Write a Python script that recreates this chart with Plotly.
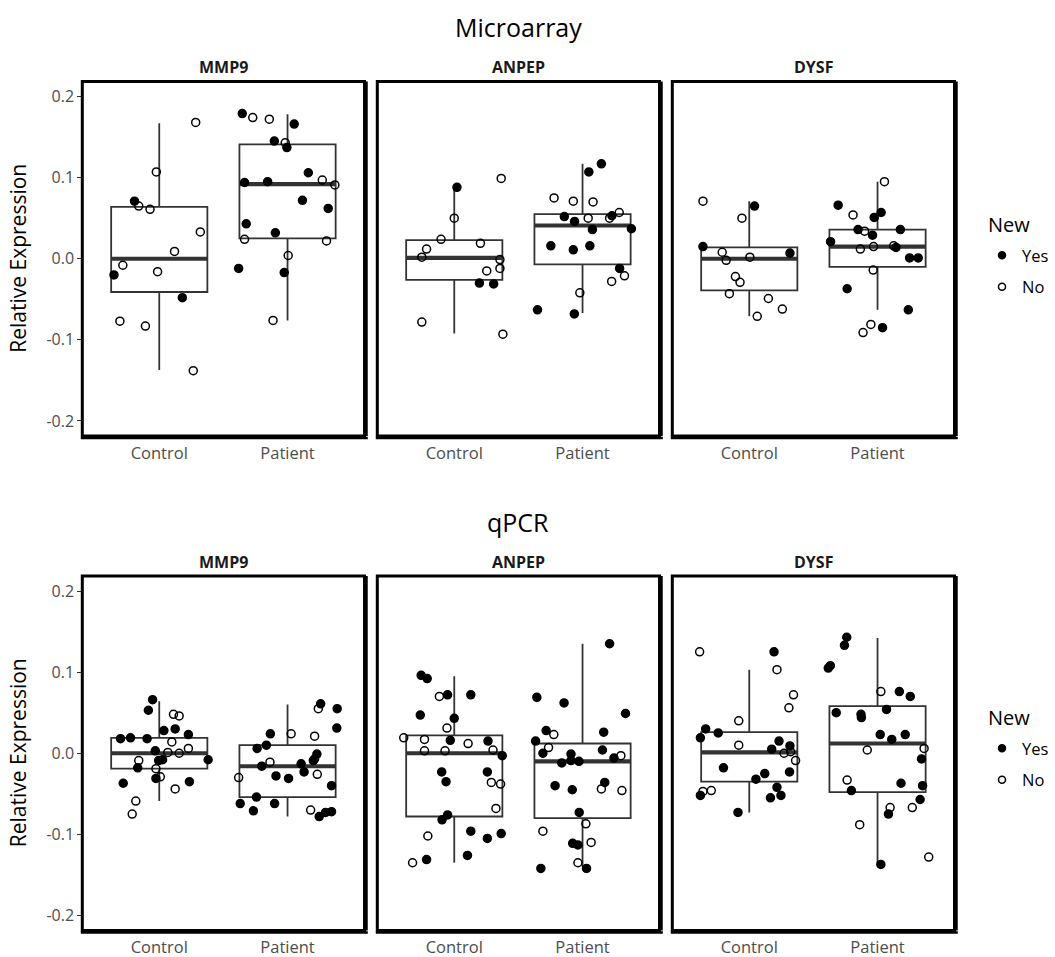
import plotly.graph_objects as go

# ---------------------------------------------------------------- data
GROUPS = ["Control", "Patient"]
GENES = ["MMP9", "ANPEP", "DYSF"]
PLATFORMS = ["Microarray", "qPCR"]
Y_TICKS = [-0.2, -0.1, 0.0, 0.1, 0.2]
Y_TICK_TEXT = ["-0.2", "-0.1", "0.0", "0.1", "0.2"]

# Each sample: jittered group position (1 = Control, 2 = Patient),
# relative expression, and whether the sample is new (Y/N).
MA_MMP9_X = [0.807, 0.840, 0.928, 0.977, 1.284, 1.320, 1.119, 0.716, 0.647, 0.987, 1.180, 0.693, 0.892, 1.265,
             1.647, 1.729, 1.858, 2.052, 1.897, 1.982, 1.995, 2.162, 2.271, 2.369, 1.665, 1.845, 2.116, 2.317,
             1.678, 1.905, 1.665, 2.304, 2.005, 1.619, 1.974, 1.887]
MA_MMP9_Y = [0.071, 0.065, 0.061, 0.107, 0.168, 0.033, 0.009, -0.008, -0.020, -0.016, -0.048, -0.077, -0.083, -0.138,
             0.179, 0.174, 0.172, 0.166, 0.145, 0.143, 0.137, 0.106, 0.097, 0.091, 0.094, 0.095, 0.072, 0.062,
             0.043, 0.032, 0.024, 0.022, 0.004, -0.012, -0.017, -0.076]
MA_MMP9_NEW = "YNNNNNNNYNYNNN" "YNNYYNYYNNYYYYYYNNNYYN"

MA_ANPEP_X = [1.021, 1.366, 1.000, 0.897, 0.784, 0.747, 1.204, 1.356, 1.356, 1.253, 1.196, 1.307, 0.747, 1.379,
              2.147, 2.049, 1.778, 1.928, 2.082, 2.286, 2.211, 2.229, 1.858, 1.938, 2.044, 2.077, 2.381, 1.753,
              1.928, 2.057, 2.289, 2.327, 2.227, 1.979, 1.649, 1.936]
MA_ANPEP_Y = [0.088, 0.099, 0.050, 0.024, 0.012, 0.002, 0.019, -0.001, -0.012, -0.015, -0.030, -0.031, -0.078, -0.093,
              0.117, 0.107, 0.075, 0.071, 0.070, 0.057, 0.050, 0.053, 0.052, 0.046, 0.050, 0.036, 0.037, 0.016,
              0.011, 0.016, -0.012, -0.021, -0.028, -0.042, -0.063, -0.068]
MA_ANPEP_NEW = "YNNNNNNNNNYYNN" "YYNNNNNYYYNYYYYYYNNNYY"

MA_DYSF_X = [0.639, 1.041, 0.943, 0.639, 0.789, 0.820, 1.005, 1.317, 0.892, 0.928, 0.845, 1.149, 1.258, 1.062,
             2.054, 1.693, 1.809, 2.028, 1.974, 1.848, 1.899, 1.961, 2.178, 1.634, 1.866, 1.969, 2.126, 2.144,
             2.250, 2.317, 1.966, 1.763, 2.240, 1.948, 1.887, 2.039]
MA_DYSF_Y = [0.071, 0.065, 0.050, 0.015, 0.008, -0.002, 0.002, 0.007, -0.022, -0.029, -0.043, -0.049, -0.062, -0.071,
             0.095, 0.066, 0.054, 0.057, 0.051, 0.036, 0.034, 0.029, 0.036, 0.021, 0.012, 0.015, 0.016, 0.014,
             0.001, 0.001, -0.014, -0.037, -0.063, -0.081, -0.091, -0.085]
MA_DYSF_NEW = "NYNYNNNYNNNNNN" "NYNYYYNYYYNNNYYYNYYNNY"

QP_MMP9_X = [0.948, 0.915, 1.111, 1.155, 1.036, 1.124, 1.227, 0.698, 0.776, 0.905, 1.098, 1.227, 0.969, 1.067,
             1.155, 0.840, 0.995, 1.026, 1.381, 0.832, 0.974, 1.008, 0.974, 0.719, 1.235, 1.124, 0.817, 0.789,
             2.258, 2.240, 2.387, 2.384, 1.866, 2.028, 2.211, 1.835, 1.763, 2.229, 2.211, 2.201, 1.863, 2.106,
             1.799, 2.129, 2.232, 1.910, 2.008, 1.619, 2.343, 1.758, 1.631, 1.899, 1.734, 2.180, 2.247, 2.296,
             2.343]
QP_MMP9_Y = [0.066, 0.053, 0.048, 0.046, 0.028, 0.030, 0.023, 0.018, 0.019, 0.018, 0.014, 0.006, 0.003, 0.001,
             0.000, -0.009, -0.009, -0.008, -0.008, -0.018, -0.019, -0.029, -0.031, -0.037, -0.035, -0.044, -0.059,
             -0.075,
             0.061, 0.055, 0.055, 0.031, 0.024, 0.024, 0.021, 0.010, 0.006, -0.001, -0.007, -0.009, -0.011, -0.013,
             -0.016, -0.023, -0.026, -0.028, -0.031, -0.030, -0.040, -0.054, -0.062, -0.062, -0.071, -0.070, -0.078,
             -0.073, -0.072]
QP_MMP9_NEW = "YYNNYYYYYYNNYNNNYYYYNNYYYNNN" "YNYYYNNYYYNYNYYYNYYNYYYYYNYYY"

QP_ANPEP_X = [0.742, 0.789, 0.884, 0.948, 1.129, 0.735, 1.000, 0.943, 0.606, 0.768, 0.969, 1.108, 1.263, 0.768,
              0.928, 1.302, 1.374, 0.902, 1.258, 0.936, 1.289, 1.361, 1.325, 0.948, 0.905, 0.794, 1.129, 1.258,
              1.366, 1.103, 0.784, 0.675,
              2.211, 1.644, 1.856, 2.335, 1.716, 1.776, 2.165, 1.634, 1.735, 1.691, 1.910, 2.155, 2.299, 2.245,
              1.838, 1.910, 1.972, 2.173, 1.786, 1.920, 2.147, 2.307, 1.974, 2.026, 1.691, 2.067, 1.923, 1.964,
              1.964, 2.031, 1.675]
QP_ANPEP_Y = [0.096, 0.092, 0.070, 0.072, 0.072, 0.047, 0.043, 0.031, 0.019, 0.017, 0.016, 0.012, 0.015, 0.003,
              0.003, 0.004, -0.003, -0.023, -0.023, -0.035, -0.036, -0.038, -0.068, -0.076, -0.082, -0.102, -0.096,
              -0.105, -0.099, -0.126, -0.131, -0.135,
              0.135, 0.069, 0.062, 0.049, 0.028, 0.023, 0.026, 0.015, 0.007, 0.000, -0.001, 0.004, -0.003, -0.006,
              -0.012, -0.009, -0.010, -0.036, -0.040, -0.045, -0.044, -0.046, -0.073, -0.087, -0.096, -0.110, -0.111,
              -0.113, -0.135, -0.142, -0.142]
QP_ANPEP_NEW = "YYNYYYYNNNYNYNNNYYYYNNNYYNYYYYYN" "YYYYYNYYNYYYNYYYYYYYNNYNNNYYNYY"

QP_DYSF_X = [0.613, 1.193, 1.216, 1.345, 1.309, 0.918, 0.660, 0.758, 0.619, 0.918, 1.232, 1.317, 1.175, 1.271,
             1.322, 1.361, 0.799, 1.314, 1.121, 1.052, 0.639, 0.704, 0.619, 1.216, 1.247, 1.165, 0.912,
             1.760, 1.742, 1.616, 1.632, 2.026, 2.170, 2.255, 1.678, 1.871, 1.874, 2.070, 2.021, 2.111, 2.216,
             1.920, 2.363, 2.343, 1.763, 2.183, 2.351, 1.796, 2.332, 2.098, 2.085, 2.271, 1.861, 2.026, 2.399]
QP_DYSF_Y = [0.125, 0.125, 0.103, 0.072, 0.056, 0.040, 0.030, 0.025, 0.019, 0.010, 0.015, 0.009, 0.005, 0.000,
             0.002, -0.009, -0.018, -0.023, -0.025, -0.032, -0.047, -0.046, -0.052, -0.042, -0.052, -0.055, -0.073,
             0.143, 0.133, 0.105, 0.108, 0.076, 0.076, 0.070, 0.050, 0.048, 0.044, 0.054, 0.023, 0.017, 0.023,
             0.004, 0.006, -0.007, -0.033, -0.037, -0.040, -0.046, -0.057, -0.067, -0.075, -0.067, -0.088, -0.137,
             -0.128]
QP_DYSF_NEW = "NYNNNNYYYNYYYNNNYYYYNNYYYYY" "YYYYNYYYYYYYYYNNYNYYYYNYNNYN"

# Box summaries per group: [lower whisker, Q1, median, Q3, upper whisker]
MA_MMP9_BOX = [[-0.137, -0.041, 0.000, 0.064, 0.167], [-0.076, 0.025, 0.092, 0.141, 0.178]]
MA_ANPEP_BOX = [[-0.092, -0.026, 0.001, 0.023, 0.088], [-0.067, -0.007, 0.041, 0.055, 0.117]]
MA_DYSF_BOX = [[-0.071, -0.039, 0.000, 0.014, 0.071], [-0.063, -0.010, 0.015, 0.036, 0.095]]
QP_MMP9_BOX = [[-0.059, -0.019, 0.000, 0.019, 0.064], [-0.078, -0.054, -0.016, 0.010, 0.060]]
QP_ANPEP_BOX = [[-0.135, -0.078, 0.000, 0.022, 0.095], [-0.140, -0.080, -0.010, 0.012, 0.135]]
QP_DYSF_BOX = [[-0.073, -0.035, 0.001, 0.026, 0.103], [-0.137, -0.048, 0.012, 0.058, 0.142]]

PANELS = [
    (MA_MMP9_X, MA_MMP9_Y, MA_MMP9_NEW, MA_MMP9_BOX),
    (MA_ANPEP_X, MA_ANPEP_Y, MA_ANPEP_NEW, MA_ANPEP_BOX),
    (MA_DYSF_X, MA_DYSF_Y, MA_DYSF_NEW, MA_DYSF_BOX),
    (QP_MMP9_X, QP_MMP9_Y, QP_MMP9_NEW, QP_MMP9_BOX),
    (QP_ANPEP_X, QP_ANPEP_Y, QP_ANPEP_NEW, QP_ANPEP_BOX),
    (QP_DYSF_X, QP_DYSF_Y, QP_DYSF_NEW, QP_DYSF_BOX),
]

# ---------------------------------------------------------------- style
W, H = 1055, 957
FONT = "Open Sans"
BOX_COLOR = "#333333"
TICK_COLOR = "#4D4D4D"
BOX_WIDTH = 0.75
COL_PX = [(82.3, 364.5), (377.3, 659.5), (672.3, 954.5)]
ROW_PX = [(81.5, 436.0), (576.0, 930.5)]
Y_RANGE = [-0.2185, 0.2185]
LEGEND_ROWS = [(224, 238), (717, 731)]   # title centre, legend top (px from top)

fig = go.Figure()

for i, (xs, ys, new, box) in enumerate(PANELS):
    n = i + 1
    xa, ya = ("x", "y") if n == 1 else (f"x{n}", f"y{n}")
    # boxes
    for g, stats in enumerate(box):
        lo, q1, med, q3, hi = stats
        fig.add_trace(go.Box(
            x=[g + 1], q1=[q1], median=[med], q3=[q3], lowerfence=[lo], upperfence=[hi],
            width=BOX_WIDTH, whiskerwidth=0, boxpoints=False,
            line=dict(color=BOX_COLOR, width=1.8), fillcolor="rgba(255,255,255,0)",
            showlegend=False, hoverinfo="skip", xaxis=xa, yaxis=ya,
        ))
        fig.add_trace(go.Scatter(
            x=[g + 1 - BOX_WIDTH / 2, g + 1 + BOX_WIDTH / 2], y=[med, med], mode="lines",
            line=dict(color=BOX_COLOR, width=4.2), showlegend=False, hoverinfo="skip",
            xaxis=xa, yaxis=ya,
        ))
    # jittered samples
    for flag, symbol in (("Y", "circle"), ("N", "circle-open")):
        px = [x for x, f in zip(xs, new) if f == flag]
        py = [y for y, f in zip(ys, new) if f == flag]
        fig.add_trace(go.Scatter(
            x=px, y=py, mode="markers",
            marker=dict(symbol=symbol, size=8, color="black", line=dict(color="black", width=1.5)),
            showlegend=False, xaxis=xa, yaxis=ya,
        ))

# legend entries, one legend per row
for leg, ya in (("legend", "y"), ("legend2", "y4")):
    for k, (name, symbol) in enumerate((("Yes", "circle"), ("No", "circle-open"))):
        fig.add_trace(go.Scatter(
            x=[None], y=[None], mode="markers", name=name, legend=leg, legendgroup=f"{leg}{k}",
            marker=dict(symbol=symbol, size=7, color="black", line=dict(color="black", width=1.5)),
            xaxis="x", yaxis=ya,
        ))

layout = dict(
    width=W, height=H, margin=dict(l=0, r=0, t=0, b=0),
    paper_bgcolor="white", plot_bgcolor="white",
    font=dict(family=FONT, color="black"),
    shapes=[], annotations=[],
)

for i in range(6):
    n = i + 1
    r, c = divmod(i, 3)
    x0, x1 = COL_PX[c]
    y0, y1 = ROW_PX[r]
    xkey = "xaxis" if n == 1 else f"xaxis{n}"
    ykey = "yaxis" if n == 1 else f"yaxis{n}"
    xa = "x" if n == 1 else f"x{n}"
    ya = "y" if n == 1 else f"y{n}"
    layout[xkey] = dict(
        domain=[x0 / W, x1 / W], anchor=ya, range=[0.4, 2.6],
        tickvals=[1, 2], ticktext=GROUPS, ticks="", showgrid=False, zeroline=False,
        showline=False, ticklabelstandoff=5,
        tickfont=dict(size=16.5, color=TICK_COLOR, family=FONT),
    )
    layout[ykey] = dict(
        domain=[1 - y1 / H, 1 - y0 / H], anchor=xa, range=Y_RANGE,
        tickvals=Y_TICKS, ticktext=Y_TICK_TEXT, showgrid=False, zeroline=False, showline=False,
        ticks="outside" if c == 0 else "", ticklen=4, tickwidth=1.3, tickcolor=BOX_COLOR,
        showticklabels=(c == 0), tickfont=dict(size=16, color=TICK_COLOR, family=FONT),
    )
    ref_x = f"{xa} domain"
    ref_y = f"{ya} domain"
    # panel frame, heavier on the right and bottom edges
    layout["shapes"].append(dict(
        type="rect", xref=ref_x, yref=ref_y, x0=0, x1=1, y0=0, y1=1,
        line=dict(color="black", width=3), layer="above",
    ))
    layout["shapes"].append(dict(
        type="line", xref=ref_x, yref=ref_y, xsizemode="pixel", xanchor=1,
        x0=2, x1=2, y0=0, y1=1, line=dict(color="black", width=2.5), layer="above",
    ))
    layout["shapes"].append(dict(
        type="line", xref=ref_x, yref=ref_y, xsizemode="pixel", xanchor=0,
        ysizemode="pixel", yanchor=0,
        x0=-1.5, x1=(x1 - x0) + 3.3, y0=-2, y1=-2, line=dict(color="black", width=2.5), layer="above",
    ))
    # gene strip label
    layout["annotations"].append(dict(
        text=f"<b>{GENES[c]}</b>", x=(x0 + x1) / 2 / W, y=1 - (y0 - 14.5) / H,
        xref="paper", yref="paper", showarrow=False, xanchor="center", yanchor="middle",
        font=dict(size=16, family=FONT, color="#1A1A1A"),
    ))

for r, (y0, y1) in enumerate(ROW_PX):
    layout["annotations"].append(dict(
        text=PLATFORMS[r], x=(COL_PX[0][0] + COL_PX[2][1]) / 2 / W, y=1 - (y0 - 54.5) / H,
        xref="paper", yref="paper", showarrow=False, xanchor="center", yanchor="middle",
        font=dict(size=25, family=FONT, color="black"),
    ))
    layout["annotations"].append(dict(
        text="Relative Expression", x=18 / W, y=1 - (y0 + y1) / 2 / H,
        xref="paper", yref="paper", showarrow=False, xanchor="center", yanchor="middle",
        textangle=-90, font=dict(size=21, family=FONT, color="black"),
    ))
    # legend heading
    layout["annotations"].append(dict(
        text="New", x=986 / W, y=1 - LEGEND_ROWS[r][0] / H,
        xref="paper", yref="paper", showarrow=False, xanchor="left", yanchor="middle",
        font=dict(size=20, family=FONT, color="black"),
    ))

legend_style = dict(
    xanchor="left", yanchor="top", x=982 / W, bgcolor="rgba(0,0,0,0)",
    font=dict(size=16.5, family=FONT), tracegroupgap=7, itemwidth=30,
)
layout["legend"] = dict(legend_style, y=1 - LEGEND_ROWS[0][1] / H)
layout["legend2"] = dict(legend_style, y=1 - LEGEND_ROWS[1][1] / H)

fig.update_layout(**layout)
fig.write_html("out.html")
